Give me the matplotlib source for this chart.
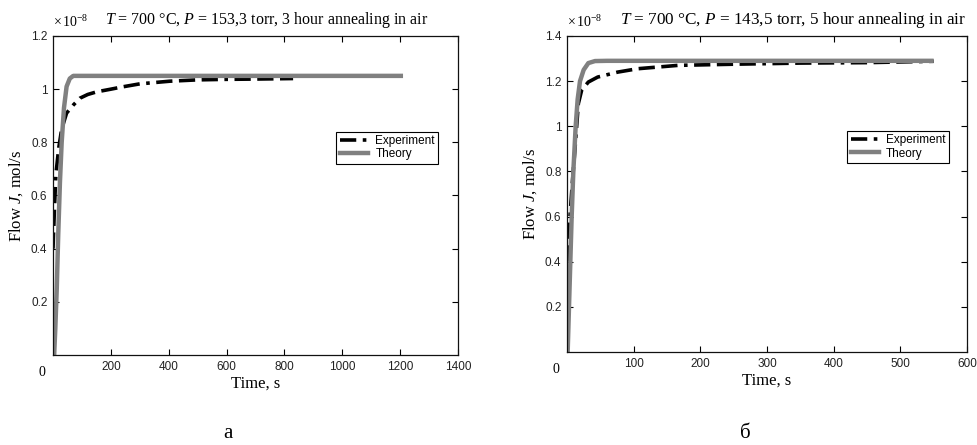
import matplotlib
matplotlib.use("Agg")
import matplotlib.pyplot as plt
from matplotlib.lines import Line2D

plt.rcParams["mathtext.fontset"] = "custom"
plt.rcParams["mathtext.rm"] = "Liberation Serif"
plt.rcParams["mathtext.it"] = "Liberation Serif:italic"

# panel a: 3 hour annealing
exp_t_a = [0, 5, 10, 20, 30, 47, 70, 93, 120, 151, 200, 242, 300, 404, 500, 600, 700, 830]
exp_v_a = [0.40, 0.55, 0.68, 0.78, 0.85, 0.91, 0.94, 0.966, 0.98, 0.99, 1.0, 1.009,
           1.02, 1.03, 1.035, 1.037, 1.038, 1.04]
th_t_a = [4, 8, 13, 18, 24, 30, 38, 47, 58, 70, 100, 1210]
th_v_a = [0.0, 0.1, 0.25, 0.45, 0.65, 0.8, 0.93, 1.01, 1.04, 1.05, 1.05, 1.05]

# panel b: 5 hour annealing
exp_t_b = [0, 1.5, 4.5, 8, 12, 17, 22, 32, 46, 76, 106, 167, 250, 350, 450, 550]
exp_v_b = [0.30, 0.40, 0.60, 0.75, 0.90, 1.10, 1.16, 1.196, 1.218, 1.24, 1.255,
           1.27, 1.275, 1.28, 1.282, 1.288]
th_t_b = [1, 3, 5, 7, 9.5, 13, 16, 19.5, 25, 32, 42, 60, 550]
th_v_b = [0.0, 0.2, 0.4, 0.6, 0.8, 1.0, 1.12, 1.2, 1.25, 1.28, 1.289, 1.29, 1.29]

titles = ["$T$ = 700 °C, $P$ = 153,3 torr, 3 hour annealing in air",
          "$T$ = 700 °C, $P$ = 143,5 torr, 5 hour annealing in air"]
xticks_a = [200, 400, 600, 800, 1000, 1200, 1400]
xticks_b = [100, 200, 300, 400, 500, 600]
yticks_a = [0.2, 0.4, 0.6, 0.8, 1.0, 1.2]
yticks_b = [0.2, 0.4, 0.6, 0.8, 1.0, 1.2, 1.4]
panel_labels = ["а", "б"]

W, H = 978, 445
fig = plt.figure(figsize=(W / 100, H / 100), dpi=100)
ax1 = fig.add_axes([53 / W, 1 - 355 / H, 405 / W, 319 / H])
ax2 = fig.add_axes([567 / W, 1 - 352 / H, 400 / W, 316 / H])

serif = "Liberation Serif"
sans = "Liberation Sans"

panels = [
    (ax1, exp_t_a, exp_v_a, th_t_a, th_v_a, 1400, 1.2, xticks_a, yticks_a, 0.128, 11.5, 228),
    (ax2, exp_t_b, exp_v_b, th_t_b, th_v_b, 600, 1.4, xticks_b, yticks_b, 0.133, 12.3, 745),
]
for i, (ax, et, ev, tt, tv, xmax, ymax, xt, yt, tx, tfs, px) in enumerate(panels):
    ax.plot(et, ev, color="black", lw=2.6, dashes=(4.5, 1.8, 4.5, 1.8, 4.5, 1.8, 1, 1.8))
    ax.plot(tt, tv, color="#808080", lw=3.2, solid_capstyle="butt")
    ax.set_xlim(0, xmax)
    ax.set_ylim(0, ymax)
    ax.set_xticks(xt)
    ax.set_yticks(yt)
    ax.set_yticklabels([f"{v:g}" for v in yt])
    ax.tick_params(direction="in", length=4, width=0.8, top=True, right=True,
                   labelsize=8.5, pad=4)
    for lab in ax.get_xticklabels() + ax.get_yticklabels():
        lab.set_family(sans)
        lab.set_color("#222222")
    for s in ax.spines.values():
        s.set_linewidth(0.9)
        s.set_color("#111111")
    ax.text(-0.02, -0.035, "0", transform=ax.transAxes, ha="right", va="top",
            family=serif, fontsize=10)
    ax.set_xlabel("Time, s", family=serif, fontsize=12, labelpad=2)
    ax.set_ylabel("Flow $J$, mol/s", family=serif, fontsize=12, labelpad=4)
    ax.text(0.0, 1.018, r"$\times\,10^{-8}$", transform=ax.transAxes, ha="left",
            va="bottom", family=serif, fontsize=10)
    ax.text(tx, 1.018, titles[i], transform=ax.transAxes, ha="left", va="bottom",
            family=serif, fontsize=tfs)
    handles = [Line2D([], [], color="black", lw=2.6, dashes=(4.5, 1.8, 1, 1.8)),
               Line2D([], [], color="#808080", lw=3.2)]
    leg = ax.legend(handles, ["Experiment", "Theory"], loc="upper left",
                    bbox_to_anchor=(0.70, 0.70), fancybox=False, framealpha=1,
                    edgecolor="black", borderpad=0.3, labelspacing=0.1,
                    handlelength=2.4, handletextpad=0.6, borderaxespad=0,
                    prop={"family": sans, "size": 8.5})
    leg.get_frame().set_linewidth(0.8)
    fig.text(px / W, 1 - 434 / H, panel_labels[i], ha="center", va="center",
             family=serif, fontsize=15)

fig.savefig("out.png", dpi=100)
